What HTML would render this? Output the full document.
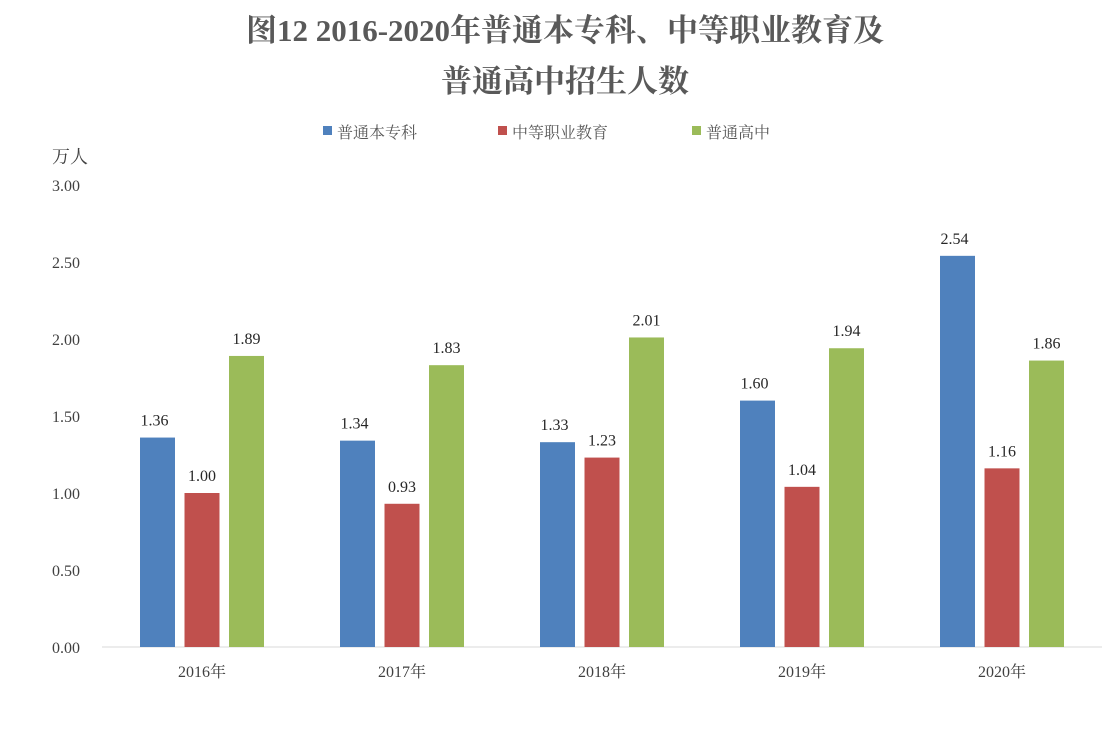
<!DOCTYPE html>
<html><head><meta charset="utf-8"><style>
body{margin:0;background:#fff;}
svg text{font-family:"Liberation Serif","Noto Serif CJK SC",serif;}
</style></head><body>
<svg width="1116" height="734" xmlns="http://www.w3.org/2000/svg">
<rect width="1116" height="734" fill="#fff"/>
<text x="565" y="41" text-anchor="middle" font-size="31" font-weight="bold" fill="#595959">图12  2016-2020年普通本专科、中等职业教育及</text>
<text x="565" y="92" text-anchor="middle" font-size="31" font-weight="bold" fill="#595959">普通高中招生人数</text>
<g id="legend"></g>
<text x="52" y="163" font-size="18" fill="#404040">万人</text>
<g id="plot"></g>
</svg>
<script>
const categories=["2016年","2017年","2018年","2019年","2020年"];
const seriesNames=["普通本专科","中等职业教育","普通高中"];
const s1=[1.36,1.34,1.33,1.60,2.54];
const s2=[1.00,0.93,1.23,1.04,1.16];
const s3=[1.89,1.83,2.01,1.94,1.86];
const yTicks=[0,0.5,1,1.5,2,2.5,3];
const colors=["#4f81bd","#c0504d","#9bbb59"];
const NS="http://www.w3.org/2000/svg";
const plot=document.getElementById('plot'),legend=document.getElementById('legend');
const y0=647,yTop=185,yMax=3;
const y=v=>y0-v*(y0-yTop)/yMax;
const gx=i=>202+i*200;
function mk(tag,attrs,parent){const e=document.createElementNS(NS,tag);for(const k in attrs)e.setAttribute(k,attrs[k]);parent.appendChild(e);return e;}
yTicks.forEach(t=>{
 const e=mk('text',{x:52,y:y(t)+6,'font-size':16,fill:'#404040'},plot);
 
 
 e.textContent=t.toFixed(2);
});
const base=mk('line',{x1:102,x2:1102,y1:y0,y2:y0,stroke:'#d9d9d9','stroke-width':1},plot);


const series=[s1,s2,s3];
const bw=35,step=44.5;
categories.forEach((c,i)=>{
 const t=mk('text',{x:gx(i),y:677,'text-anchor':'middle','font-size':16,fill:'#404040'},plot);
 
 
 t.textContent=c;
 series.forEach((s,j)=>{
  const cx=gx(i)+(j-1)*step;
  const r=mk('rect',{x:cx-bw/2,y:y(s[i]),width:bw,height:y0-y(s[i]),fill:colors[j]},plot);
  
  
  const l=mk('text',{x:cx+(j==0?-3:0),y:y(s[i])-12,'text-anchor':'middle','font-size':16,fill:'#262626'},plot);
  
  
  l.textContent=s[i].toFixed(2);
 });
});
const lx=[323,498,692];
seriesNames.forEach((n,j)=>{
 const r=mk('rect',{x:lx[j],y:126,width:9,height:9,fill:colors[j]},legend);
 
 
 const t=mk('text',{x:lx[j]+14,y:138,'font-size':16,fill:'#595959','font-family':'"Liberation Sans","Noto Sans CJK SC",sans-serif'},legend);
 
 
 t.textContent=n;
});
</script>
</body></html>
